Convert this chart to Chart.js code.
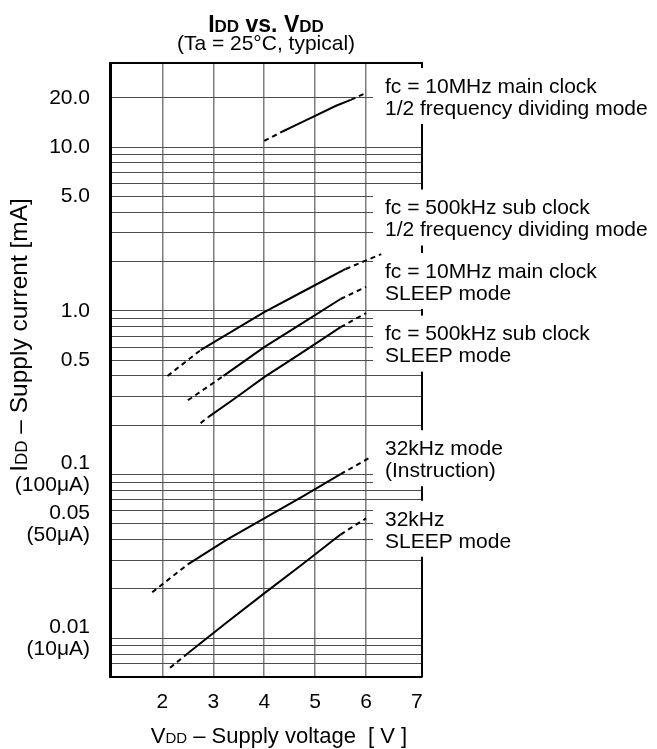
<!DOCTYPE html>
<html>
<head>
<meta charset="utf-8">
<script src="https://cdn.jsdelivr.net/npm/chart.js@4.4.1/dist/chart.umd.min.js"></script>
<style>
  html, body { margin: 0; padding: 0; background: #fff; }
  #wrap { width: 657px; height: 749px; }
</style>
</head>
<body>
<div id="wrap"><canvas id="chartIdd"></canvas></div>
<script>
const vddTicks = [1, 2, 3, 4, 5, 6, 7];

const yGridValues = [
  0.007, 0.008, 0.009,
  0.01, 0.02, 0.03, 0.04, 0.05, 0.06, 0.07, 0.08, 0.09,
  0.1, 0.2, 0.3, 0.4, 0.5, 0.6, 0.7, 0.8, 0.9,
  1, 2, 3, 4, 5, 6, 7, 8, 9,
  10, 20,
];
const yTickValues = [20, 10, 5, 1, 0.5, 0.1, 0.05, 0.01];
const yTickLabels = [
  "20.0", "10.0", "5.0", "1.0", "0.5",
  ["0.1", "(100μA)"], ["0.05", "(50μA)"], ["0.01", "(10μA)"],
];

// fc = 10MHz main clock, 1/2 frequency dividing mode
const vddMainDiv = [4.0, 4.35, 4.6, 5.0, 5.4, 5.7, 6.0];
const iddMainDiv = [10.9, 12.4, 13.5, 15.5, 17.8, 19.4, 21.4];
const solidMainDiv = [1, 5];

// fc = 500kHz sub clock, 1/2 frequency dividing mode
const vddSubDiv = [2.1, 2.75, 3.4, 4.0, 4.8, 5.6, 6.3];
const iddSubDiv = [0.40, 0.575, 0.76, 0.98, 1.33, 1.80, 2.22];
const solidSubDiv = [1, 5];

// fc = 10MHz main clock, SLEEP
const vddMainSleep = [2.5, 3.2, 4.0, 4.75, 5.5, 6.0];
const iddMainSleep = [0.284, 0.40, 0.60, 0.84, 1.18, 1.40];
const solidMainSleep = [1, 4];

// fc = 500kHz sub clock, SLEEP
const vddSubSleep = [2.75, 2.9, 3.4, 4.0, 4.75, 5.5, 6.0];
const iddSubSleep = [0.206, 0.224, 0.288, 0.393, 0.557, 0.794, 0.968];
const solidSubSleep = [1, 5];

// 32kHz mode (Instruction)
const vdd32k = [1.8, 2.5, 3.25, 4.0, 4.75, 5.5, 6.1];
const idd32k = [0.0191, 0.0283, 0.0397, 0.054, 0.0734, 0.1005, 0.128];
const solid32k = [1, 5];

// 32kHz SLEEP mode
const vdd32kSleep = [2.15, 2.5, 3.25, 4.0, 4.75, 5.5, 6.0];
const idd32kSleep = [0.0066, 0.0081, 0.0124, 0.0188, 0.0283, 0.043, 0.054];
const solid32kSleep = [1, 5];

const curveLabels = [
  ["fc = 10MHz main clock", "1/2 frequency dividing mode"],
  ["fc = 500kHz sub clock", "1/2 frequency dividing mode"],
  ["fc = 10MHz main clock", "SLEEP mode"],
  ["fc = 500kHz sub clock", "SLEEP mode"],
  ["32kHz mode", "(Instruction)"],
  ["32kHz", "SLEEP mode"],
];

const FONT = '"Liberation Sans", Arial, sans-serif';

function serie(label, xs, ys, solid) {
  return {
    label: label,
    data: xs.map((x, i) => ({ x: x, y: ys[i] })),
    showLine: true,
    borderColor: "#000",
    borderWidth: 2,
    pointRadius: 0,
    tension: 0,
    segment: {
      borderDash: (ctx) =>
        ctx.p0DataIndex < solid[0] || ctx.p1DataIndex > solid[1] ? [5, 4] : undefined,
    },
  };
}

function drawRuns(ctx, runs, x, y, align) {
  let total = 0;
  runs.forEach((r) => {
    ctx.font = r.font;
    r.w = ctx.measureText(r.text).width;
    total += r.w;
  });
  let cx = align === "center" ? x - total / 2 : x;
  runs.forEach((r) => {
    ctx.font = r.font;
    ctx.fillText(r.text, cx, y);
    cx += r.w;
  });
}

// y value (mA) at the middle of each label block
const labelAnchors = [20.2, 3.66, 1.5, 0.621, 0.124, 0.046];

const decor = {
  id: "decor",
  beforeDatasetsDraw(chart) {
    const { ctx, chartArea: a } = chart;
    const y = chart.scales.y;
    ctx.save();
    ctx.strokeStyle = "#000";
    ctx.lineWidth = 2;
    ctx.beginPath();
    ctx.moveTo(a.left, a.top);
    ctx.lineTo(a.right + 1, a.top);
    ctx.moveTo(a.right, a.top);
    ctx.lineTo(a.right, a.bottom);
    ctx.stroke();
    ctx.fillStyle = "#fff";
    labelAnchors.forEach((v) => {
      const py = y.getPixelForValue(v);
      ctx.fillRect(a.right - 49, py - 29, 53, 56);
    });
    ctx.restore();
  },
  afterDraw(chart) {
    const { ctx, chartArea: a } = chart;
    const y = chart.scales.y;
    const cx = (a.left + a.right) / 2;
    ctx.save();
    ctx.fillStyle = "#000";
    ctx.textBaseline = "alphabetic";

    drawRuns(ctx, [
      { text: "I", font: "bold 23px " + FONT },
      { text: "DD", font: "bold 17px " + FONT },
      { text: " vs. ", font: "bold 23px " + FONT },
      { text: "V", font: "bold 23px " + FONT },
      { text: "DD", font: "bold 17px " + FONT },
    ], cx, 32, "center");
    drawRuns(ctx, [{ text: "(Ta = 25°C, typical)", font: "21px " + FONT }], cx, 50, "center");

    drawRuns(ctx, [
      { text: "V", font: "22px " + FONT },
      { text: "DD", font: "15px " + FONT },
      { text: " – Supply voltage  [ V ]", font: "22px " + FONT },
    ], cx + 13, 743, "center");

    ctx.save();
    ctx.translate(27, 335);
    ctx.rotate(-Math.PI / 2);
    drawRuns(ctx, [
      { text: "I", font: "24.5px " + FONT },
      { text: "DD", font: "17px " + FONT },
      { text: " – Supply current [mA]", font: "24.5px " + FONT },
    ], 0, 0, "center");
    ctx.restore();

    ctx.font = "21px " + FONT;
    ctx.textBaseline = "middle";
    curveLabels.forEach((lines, i) => {
      const py = y.getPixelForValue(labelAnchors[i]);
      ctx.fillText(lines[0], a.right - 37, py - 10);
      ctx.fillText(lines[1], a.right - 37, py + 12);
    });
    ctx.restore();
  },
};

new Chart(document.getElementById("chartIdd"), {
  type: "scatter",
  data: {
    datasets: [
      serie(curveLabels[0].join(" "), vddMainDiv, iddMainDiv, solidMainDiv),
      serie(curveLabels[1].join(" "), vddSubDiv, iddSubDiv, solidSubDiv),
      serie(curveLabels[2].join(" "), vddMainSleep, iddMainSleep, solidMainSleep),
      serie(curveLabels[3].join(" "), vddSubSleep, iddSubSleep, solidSubSleep),
      serie(curveLabels[4].join(" "), vdd32k, idd32k, solid32k),
      serie(curveLabels[5].join(" "), vdd32kSleep, idd32kSleep, solid32kSleep),
    ],
  },
  options: {
    responsive: true,
    maintainAspectRatio: false,
    animation: false,
    layout: { padding: { left: 0, right: 235, top: 63, bottom: 0 } },
    plugins: {
      legend: { display: false },
      tooltip: { enabled: false },
    },
    scales: {
      x: {
        type: "linear",
        min: 0.97,
        max: 7.1,
        afterBuildTicks: (s) => {
          s.ticks = vddTicks.map((v) => ({ value: v }));
        },
        afterFit: (s) => {
          s.height = 72;
        },
        ticks: {
          color: "#000",
          padding: 13,
          maxRotation: 0,
          autoSkip: false,
          font: { family: FONT, size: 21 },
          callback: (v) => (v === 1 ? "" : String(v)),
        },
        grid: {
          drawTicks: false,
          lineWidth: 1.5,
          color: (ctx) =>
            ctx.tick && (ctx.tick.value === 1 || ctx.tick.value === 7)
              ? "rgba(0,0,0,0)"
              : "#7d7d7d",
        },
        border: { color: "#000", width: 2 },
      },
      y: {
        type: "logarithmic",
        min: 0.0058,
        max: 32.6,
        afterBuildTicks: (s) => {
          s.ticks = yGridValues.map((v) => ({ value: v }));
        },
        afterFit: (s) => {
          s.width = 110;
        },
        ticks: {
          color: "#000",
          padding: 20,
          autoSkip: false,
          font: { family: FONT, size: 21, lineHeight: 1.05 },
          callback: (v) => {
            const i = yTickValues.indexOf(v);
            return i >= 0 ? yTickLabels[i] : "";
          },
        },
        grid: { drawTicks: false, lineWidth: 1, color: "#4d4d4d" },
        border: { color: "#000", width: 3 },
      },
    },
  },
  plugins: [decor],
});
</script>
</body>
</html>
